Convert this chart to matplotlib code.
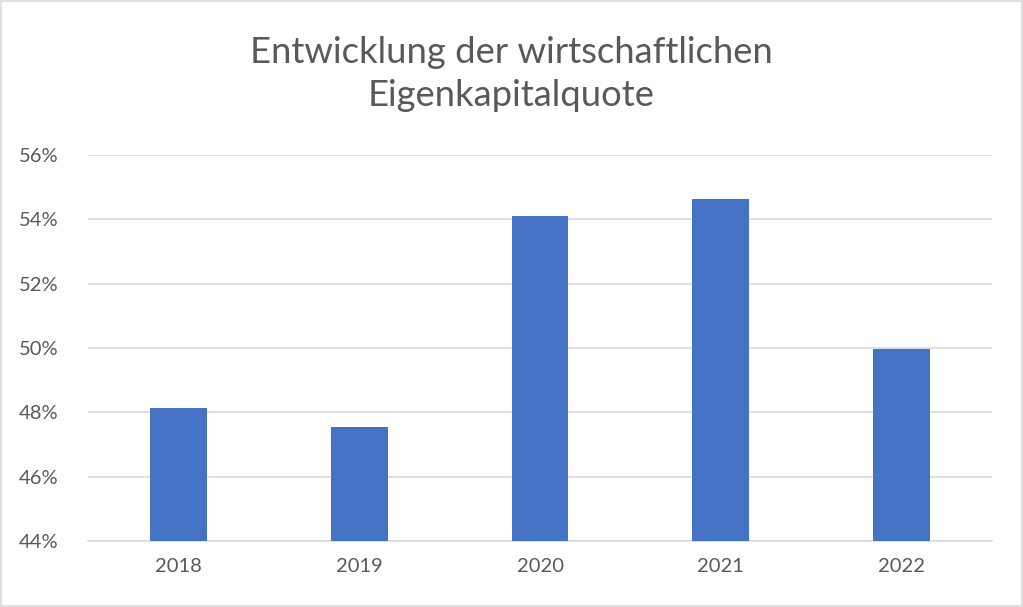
import matplotlib.pyplot as plt
from matplotlib.patches import Rectangle
from matplotlib.ticker import FuncFormatter

years = ["2018", "2019", "2020", "2021", "2022"]
quote = [48.13, 47.54, 54.10, 54.63, 49.97]
y_ticks = [44, 46, 48, 50, 52, 54, 56]

plt.rcParams['font.family'] = ['Lato', 'DejaVu Sans']
grey = "#595959"

fig = plt.figure(figsize=(10.23, 6.07), dpi=100)
ax = fig.add_axes([88 / 1023, 66 / 607, 904 / 1023, 386 / 607])

x = range(len(years))
ax.bar(x, quote, width=0.315, color="#4472C4", zorder=3)

ax.set_xlim(-0.5, len(years) - 0.5)
ax.set_ylim(44, 56)
ax.set_yticks(y_ticks)
ax.yaxis.set_major_formatter(FuncFormatter(lambda v, p: f"{v:.0f}%"))
ax.set_xticks(list(x))
ax.set_xticklabels(years)
ax.grid(axis="y", color="#d9d9d9", linewidth=1.2, zorder=0)
for s in ["top", "right", "left"]:
    ax.spines[s].set_visible(False)
ax.spines["bottom"].set_color("#d9d9d9")
ax.spines["bottom"].set_linewidth(1.2)
ax.tick_params(axis="both", length=0, labelsize=14.5, labelcolor=grey)
ax.tick_params(axis="x", pad=12)
ax.tick_params(axis="y", pad=21)

fig.text(0.5, 1 - 74 / 607, "Entwicklung der wirtschaftlichen\nEigenkapitalquote",
         ha="center", va="center", fontsize=26.2, color=grey, linespacing=1.38)

fig.patches.append(Rectangle((0.001, 0.001), 0.998, 0.997, transform=fig.transFigure,
                             fill=False, edgecolor="#d9d9d9", linewidth=1.2))

fig.savefig("out.png", dpi=100)
